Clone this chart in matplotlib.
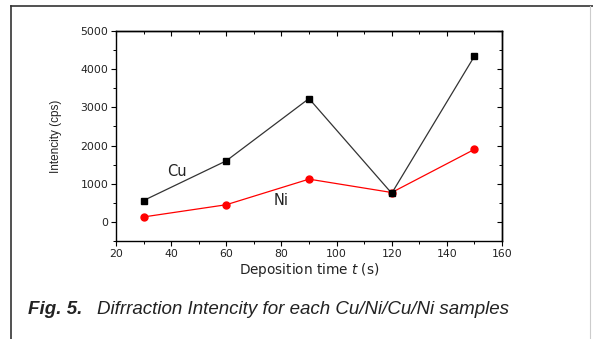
import matplotlib
matplotlib.use("Agg")
import matplotlib.pyplot as plt
from matplotlib.lines import Line2D
from matplotlib.ticker import MultipleLocator

plt.rcParams['font.family'] = ['DejaVu Sans']

time_s = [30, 60, 90, 120, 150]
cu_intensity = [560, 1600, 3230, 750, 4340]
ni_intensity = [130, 450, 1120, 770, 1900]

fig = plt.figure(figsize=(5.93, 3.39), dpi=100)
W, H = 593, 339
ax = fig.add_axes([116 / W, 1 - 241 / H, (502 - 116) / W, (241 - 31) / H])

ax.plot(time_s, cu_intensity, color='#333333', lw=0.9, marker='s', ms=5,
        mfc='black', mec='black', zorder=3)
ax.plot(time_s, ni_intensity, color='red', lw=0.9, marker='o', ms=5,
        mfc='red', mec='red', zorder=2)

ax.set_xlim(20, 160)
ax.set_ylim(-500, 5000)
ax.xaxis.set_major_locator(MultipleLocator(20))
ax.xaxis.set_minor_locator(MultipleLocator(10))
ax.yaxis.set_major_locator(MultipleLocator(1000))
ax.yaxis.set_minor_locator(MultipleLocator(500))

ax.tick_params(axis='both', which='major', labelsize=7.8, length=3.5, width=0.8,
               direction='out', pad=2, labelcolor='#222222')
ax.tick_params(axis='both', which='minor', length=2, width=0.7, direction='out')
axt = ax.secondary_xaxis('top')
axt.xaxis.set_major_locator(MultipleLocator(20))
axt.xaxis.set_minor_locator(MultipleLocator(10))
axt.tick_params(which='major', direction='in', length=3.5, width=0.8, labeltop=False)
axt.tick_params(which='minor', direction='in', length=2, width=0.7)
axr = ax.secondary_yaxis('right')
axr.yaxis.set_major_locator(MultipleLocator(1000))
axr.yaxis.set_minor_locator(MultipleLocator(500))
axr.tick_params(which='major', direction='in', length=3.5, width=0.8, labelright=False)
axr.tick_params(which='minor', direction='in', length=2, width=0.7)
for s in ax.spines.values():
    s.set_linewidth(1.0)
axt.spines['top'].set_linewidth(1.0)
axr.spines['right'].set_linewidth(1.0)

ax.set_ylabel('Intencity (cps)', fontsize=8.5, family='Liberation Sans',
              color='#222222')
ax.yaxis.set_label_coords((62 - 116) / (502 - 116), 0.5)
ax.set_xlabel('Deposition time $\\it{t}$ (s)', fontsize=9.8, labelpad=2,
              color='#222222')

ax.text(42, 1310, 'Cu', fontsize=10.5, ha='center', va='center', color='#222222')
ax.text(80, 550, 'Ni', fontsize=10.5, ha='center', va='center', color='#222222')

fig.text(28 / W, 1 - 309 / H, 'Fig. 5.', fontsize=13.5, style='italic',
         weight='bold', ha='left', va='center', family='Liberation Sans',
         color='#222222')
fig.text(97 / W, 1 - 309 / H, 'Difrraction Intencity for each Cu/Ni/Cu/Ni samples',
         fontsize=13.5, style='italic', ha='left', va='center',
         family='Liberation Sans', color='#222222')

fig.add_artist(Line2D([11 / W, 11 / W], [0, 1 - 6 / H], transform=fig.transFigure,
                      color='#333333', lw=1.2))
fig.add_artist(Line2D([11 / W, 1], [1 - 6 / H, 1 - 6 / H], transform=fig.transFigure,
                      color='#333333', lw=1.2))
fig.add_artist(Line2D([590 / W, 590 / W], [0, 1 - 6 / H], transform=fig.transFigure,
                      color='#cccccc', lw=0.8))

fig.savefig('out.png', dpi=100)
